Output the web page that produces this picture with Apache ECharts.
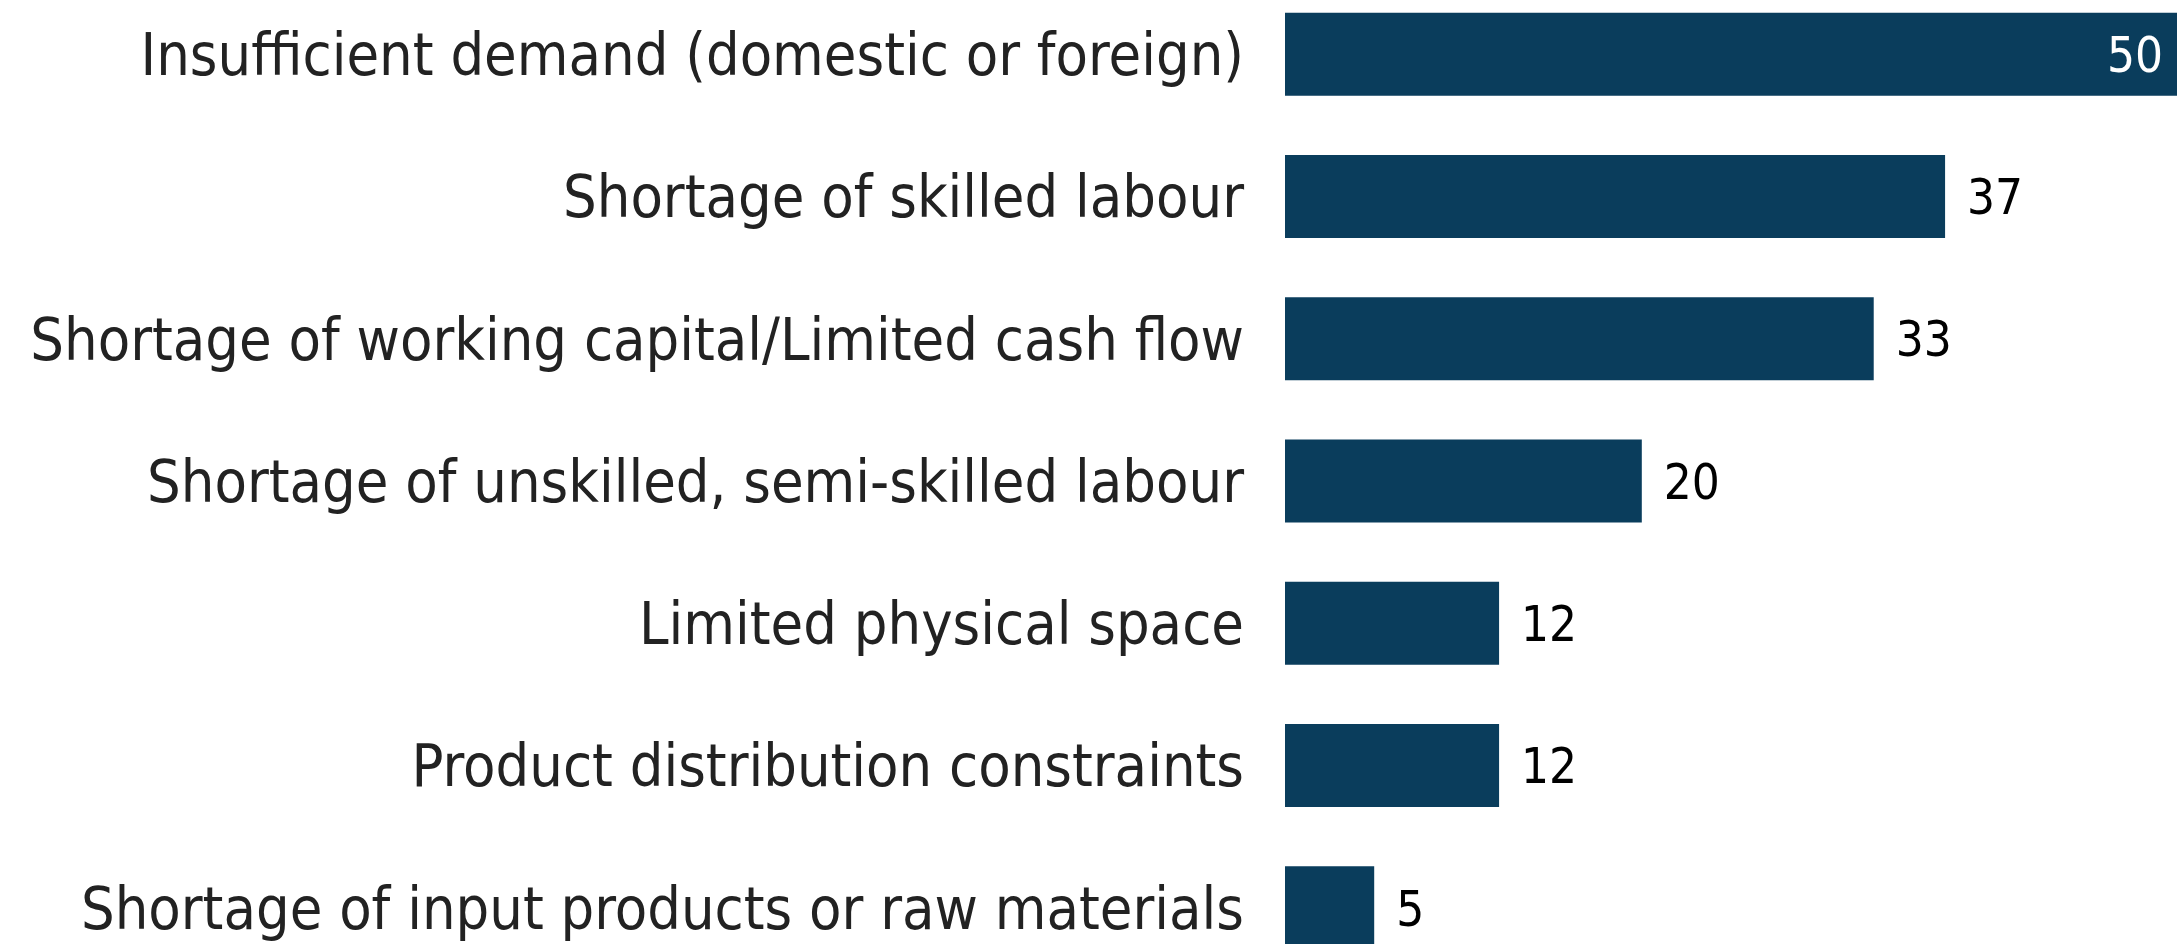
<!DOCTYPE html>
<html><head><meta charset="utf-8">
<script src="https://cdn.jsdelivr.net/npm/echarts@6/dist/echarts.min.js"></script>
<style>html,body{margin:0;padding:0;background:#fff;overflow:hidden;width:2177px;height:944px}
#c{position:absolute;left:0;top:-17px;width:2177px;height:996px}</style>
</head><body><div id="c"></div>
<script>
const categories = [
  "Insufficient demand (domestic or foreign)",
  "Shortage of skilled labour",
  "Shortage of working capital/Limited cash flow",
  "Shortage of unskilled, semi-skilled labour",
  "Limited physical space",
  "Product distribution constraints",
  "Shortage of input products or raw materials"
];
const values = [50, 37, 33, 20, 12, 12, 5];

const FONT = '"DejaVu Sans Condensed", "DejaVu Sans", sans-serif';
const chart = echarts.init(document.getElementById('c'));
chart.setOption({
  animation: false,
  grid: { left: 1285, right: 0, top: 0, bottom: 0 },
  xAxis: { type: 'value', min: 0, max: 50, show: false },
  yAxis: {
    type: 'category', data: categories, inverse: true,
    axisLine: { show: false }, axisTick: { show: false },
    axisLabel: {
      margin: 41, formatter: '{a|{value}}',
      rich: { a: { fontFamily: FONT, fontSize: 59, color: '#222222', padding: [11, 0, 0, 0] } }
    }
  },
  series: [{
    type: 'bar', data: values.map((v, i) => ({
      value: v,
      label: i === 0 ? { position: 'insideRight', color: '#ffffff', distance: 14 } : {}
    })),
    barWidth: 83,
    itemStyle: { color: '#0a3d5c' },
    label: { show: true, position: 'right', distance: 22, offset: [0, 5], fontFamily: FONT, fontSize: 49, color: '#000000' }
  }]
});
</script></body></html>
